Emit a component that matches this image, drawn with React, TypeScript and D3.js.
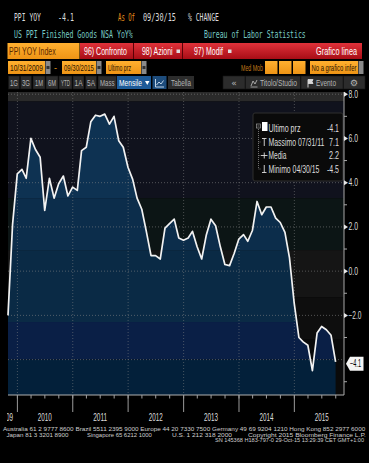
import React from "react";
import * as d3 from "d3";

// ---- data ----
const startYear = 2009;
const startMonth = 9; // October (0-based)
const values = [
  -2.0, 2.1, 4.4,
  4.6, 4.2, 6.0, 5.5, 5.15, 2.75, 4.2, 3.3, 3.95, 4.3, 3.4, 3.8,
  3.65, 5.45, 5.6, 6.75, 7.05, 7.0, 7.1, 6.65, 7.0, 5.9, 5.6, 4.7,
  4.15, 3.3, 2.8, 1.8, 0.7, 0.7, 0.55, 1.95, 2.15, 2.35, 1.5, 1.4,
  1.5, 1.8, 1.1, 0.55, 1.65, 2.35, 2.05, 1.1, 0.3, 0.25, 0.8, 1.45,
  1.65, 1.35, 1.85, 3.15, 2.55, 2.9, 2.9, 2.4, 2.2, 1.75, 0.6, -1.45,
  -3.0, -3.2, -3.35, -4.5, -2.8, -2.5, -2.65, -2.9, -4.1,
];
const yMajor = [8, 6, 4, 2, 0, -2];
const yMinor = [7, 5, 3, 1, -1, -3, -5];
const yGrid = [8, 6, 4, 2, 0, -2, -4];
const years = [2010, 2011, 2012, 2013, 2014, 2015];
const lastValue = -4.1;
const legendLabels = ["Ultimo prz", "Massimo 07/31/11", "Media", "Minimo 04/30/15"];
const legendValues = ["-4.1", "7.1", "2.2", "-4.5"];
const footer1 = "Australia 61 2 9777 8600 Brazil 5511 2395 9000 Europe 44 20 7330 7500 Germany 49 69 9204 1210 Hong Kong 852 2977 6000";
const footer2 = ["Japan 81 3 3201 8900", "Singapore 65 6212 1000", "U.S. 1 212 318 2000", "Copyright 2015 Bloomberg Finance L.P."];
const footer3 = "SN 145368 H183-797-0 29-Oct-15 13:29:39 CET  GMT+1:00";

const dates = values.map((_, i) => new Date(startYear, startMonth + i + 1, 0));
const data = values.map((v, i) => ({ date: dates[i], v }));

const MONO = "'DejaVu Sans Mono', 'Liberation Mono', monospace";
const NARROW = "'Liberation Sans', Arial, sans-serif";
const SYM = "'DejaVu Sans', sans-serif";

let ctx: CanvasRenderingContext2D | null = null;
function measure(txt: string, size: number, family: string) {
  if (typeof document === "undefined") return txt.length * size * 0.5;
  if (!ctx) ctx = document.createElement("canvas").getContext("2d");
  if (!ctx) return txt.length * size * 0.5;
  ctx.font = `${size}px ${family}`;
  return ctx.measureText(txt).width;
}

// text horizontally scaled to a target width (keeps the real glyph box compact)
const T = ({ x, y, children, len, size = 10, fill = "#dcdcdc", anchor = "start", family = NARROW }: any) => {
  const s = String(children);
  const sx = len ? len / Math.max(1, measure(s, size, family)) : 1;
  return (
    <text transform={`translate(${x},${y}) scale(${sx},1)`} x={0} y={0} fontSize={size} fill={fill}
      textAnchor={anchor} fontFamily={family}>{s}</text>
  );
};

export default function App() {
  const W = 369, H = 463;
  const L = 8, R = 344, TOP = 92, BOT = 395;
  const x = d3.scaleTime().domain([dates[0], dates[dates.length - 1]]).range([8, 335.6]);
  const y = d3.scaleLinear().domain([-5.6, 8.1]).range([BOT, TOP]);

  const area = d3.area<any>().x(d => x(d.date)).y0(BOT).y1(d => y(d.v))(data) || "";
  const line = d3.line<any>().x(d => x(d.date)).y(d => y(d.v))(data) || "";

  const bgBands = [
    { a: 8.1, b: 7.67, c: "#2a2a2a" },
    { a: 7.67, b: 3.3, c: "#10121d" },
    { a: 3.3, b: 0.95, c: "#0c1515" },
    { a: 0.95, b: -1.18, c: "#151515" },
    { a: -1.18, b: -3.1, c: "#0e0e0e" },
    { a: -3.1, b: -5.6, c: "#0a0a0a" },
  ];
  const fillBands = [
    { a: 8.1, b: 3.3, c: "#0e3252" },
    { a: 3.3, b: 0.95, c: "#0c2d4b" },
    { a: 0.95, b: -2.3, c: "#0a2a45" },
    { a: -2.3, b: -4.0, c: "#0a1f46" },
    { a: -4.0, b: -5.6, c: "#03203a" },
  ];

  const yearStarts = years.map(yr => new Date(yr, 0, 1));
  const quarters = d3.timeMonth.every(3)!.range(new Date(2010, 0, 1), new Date(2015, 9, 2));
  const yl = y(lastValue) + 2;

  const legRowY = [128, 142, 155.5, 169];

  return (
    <svg width={W} height={H} style={{ position: "absolute", left: 0, top: 0, background: "#000" }}>
      <defs>
        <clipPath id="areaClip"><path d={area} /></clipPath>
        <clipPath id="leftClip"><rect x={7} y={396} width={60} height={30} /></clipPath>
        <linearGradient id="redG" x1="0" y1="0" x2="0" y2="1">
          <stop offset="0" stopColor="#e0323a" />
          <stop offset="1" stopColor="#a80d16" />
        </linearGradient>
        <linearGradient id="orG" x1="0" y1="0" x2="0" y2="1">
          <stop offset="0" stopColor="#ffb030" />
          <stop offset="1" stopColor="#ee9415" />
        </linearGradient>
      </defs>
      <rect x={0} y={0} width={W} height={H} fill="#000" />

      {/* header */}
      <T x={14} y={20.5} len={27} family={MONO}>PPI YOY</T>
      <T x={58} y={20.5} len={16} family={MONO}>-4.1</T>
      <T x={118} y={20.5} len={17} family={MONO} fill="#e8901a">As Of</T>
      <T x={143} y={20.5} len={33} family={MONO}>09/30/15</T>
      <T x={188} y={20.5} len={31} family={MONO}>% CHANGE</T>
      <T x={14} y={37.5} len={119} family={MONO} fill="#78cbc4">US PPI Finished Goods NSA YoY%</T>
      <T x={204} y={37.5} len={102} family={MONO} fill="#78cbc4">Bureau of Labor Statistics</T>

      {/* red function bar */}
      <rect x={80} y={43} width={282} height={16} fill="url(#redG)" />
      <rect x={7.5} y={43} width={72} height={16} fill="url(#orG)" />
      <T x={9} y={55} len={47} size={10} fill="#5a2a00">PPI YOY Index</T>
      <line x1={133.5} y1={43} x2={133.5} y2={59} stroke="#5a0006" />
      <line x1={182.5} y1={43} x2={182.5} y2={59} stroke="#5a0006" />
      <T x={84} y={55} len={43} size={10} fill="#fff">96) Confronto</T>
      <T x={142} y={55} len={31} size={10} fill="#fff">98) Azioni</T>
      <rect x={176.5} y={49.5} width={3.5} height={3.5} fill="#ddd" />
      <T x={194} y={55} len={29} size={10} fill="#fff">97) Modif</T>
      <rect x={228} y={49.5} width={3.5} height={3.5} fill="#ddd" />
      <T x={357} y={55} len={41} size={10} fill="#fff" anchor="end">Grafico linea</T>

      {/* amber input row */}
      <rect x={8} y={61} width={37} height={13} fill="url(#orG)" />
      <T x={10} y={71} len={33} size={9} fill="#2a1200">10/31/2009</T>
      <rect x={45.5} y={61} width={5} height={13} fill="#8a8a8a" />
      <rect x={46.5} y={66} width={3} height={3} fill="#333" />
      <T x={54} y={71} size={9} fill="#f0a020">-</T>
      <rect x={62} y={61} width={34} height={13} fill="url(#orG)" />
      <T x={64} y={71} len={30} size={9} fill="#2a1200">09/30/2015</T>
      <rect x={96.5} y={61} width={5} height={13} fill="#8a8a8a" />
      <rect x={97.5} y={66} width={3} height={3} fill="#333" />
      <rect x={106} y={61} width={35} height={13} fill="url(#orG)" />
      <T x={108} y={71} len={23} size={9} fill="#2a1200">Ultimo prz</T>
      <rect x={141.5} y={61} width={5} height={13} fill="#8a8a8a" />
      <rect x={142.5} y={66} width={3} height={3} fill="#333" />
      <T x={241} y={71} len={22} size={9} fill="#c07818">Med Mob</T>
      <rect x={265} y={61} width={12.5} height={13} fill="url(#orG)" />
      <rect x={279} y={61} width={12.5} height={13} fill="url(#orG)" />
      <rect x={293} y={61} width={12.5} height={13} fill="url(#orG)" />
      <rect x={310} y={61} width={48} height={13} fill="url(#orG)" />
      <T x={311.5} y={71} len={45} size={9} fill="#2a1200">No a grafico infer</T>
      <rect x={358.5} y={61} width={5} height={13} fill="#8a8a8a" />

      {/* toolbar buttons */}
      {[
        [8.5, 11, "1G"], [20.5, 11, "3G"], [33, 12, "1M"], [46, 12, "6M"], [59, 13, "YTD"],
        [73, 11, "1A"], [85.5, 11, "5A"], [98, 18.5, "Mass"],
      ].map(([bx, bw, lab]: any) => (
        <g key={lab}>
          <rect x={bx} y={76} width={bw} height={13} fill="#2c2c2c" stroke="#151515" strokeWidth={0.6} />
          <T x={bx + bw / 2} y={85.5} size={8.5} fill="#b4b4b4" anchor="middle" len={lab.length > 2 ? bw - 4 : 8}>{lab}</T>
        </g>
      ))}
      <rect x={117} y={76} width={34} height={13} fill="#1d5a98" />
      <T x={119} y={85.5} size={8.5} fill="#fff" len={23}>Mensile</T>
      <path d="M145,81 L149.5,81 L147.25,85 Z" fill="#fff" />
      <rect x={152.5} y={76} width={14} height={13} fill="#1d4c7c" />
      <path d="M155.5,79 L155.5,87 L164,87 M156.5,85 L159,82 L161,84 L163.5,80.5" stroke="#cfe0f0" strokeWidth={0.9} fill="none" />
      <rect x={168} y={76} width={26} height={13} fill="#2c2c2c" />
      <T x={171} y={85.5} size={8.5} fill="#b4b4b4" len={20}>Tabella</T>
      <rect x={223} y={76} width={22} height={13} fill="#2c2c2c" stroke="#151515" strokeWidth={0.6} />
      <T x={234} y={85.5} size={9} fill="#b4b4b4" anchor="middle" family={SYM}>«</T>
      <rect x={245.5} y={76} width={55} height={13} fill="#2c2c2c" stroke="#151515" strokeWidth={0.6} />
      <path d="M251,86 L253,81 L255,84 L257,80" stroke="#b4b4b4" strokeWidth={0.9} fill="none" />
      <line x1={250.5} y1={87} x2={257.5} y2={87} stroke="#b4b4b4" strokeWidth={0.8} />
      <T x={260} y={85.5} size={8.5} fill="#b4b4b4" len={37}>Titolo/Studio</T>
      <rect x={301} y={76} width={42} height={13} fill="#2c2c2c" stroke="#151515" strokeWidth={0.6} />
      <path d="M308,79.5 L308,87.5 M308,79.5 L313,79.5 L312,81.5 L313,83.5 L308,83.5" stroke="#d8d8d8" strokeWidth={0.9} fill="#d8d8d8" />
      <T x={316} y={85.5} size={8.5} fill="#b4b4b4" len={20}>Evento</T>
      <rect x={343.5} y={76} width={21.5} height={13} fill="#2c2c2c" stroke="#151515" strokeWidth={0.6} />
      <T x={354} y={86} size={9} fill="#b4b4b4" anchor="middle" family={SYM}>⚙</T>

      {/* plot background bands */}
      {bgBands.map((b, i) => (
        <rect key={"bg" + i} x={L} y={y(b.a)} width={R - L} height={y(b.b) - y(b.a)} fill={b.c} />
      ))}
      {/* area fill with bands */}
      <g clipPath="url(#areaClip)">
        {fillBands.map((b, i) => (
          <rect key={"fb" + i} x={L} y={y(b.a)} width={R - L} height={y(b.b) - y(b.a)} fill={b.c} />
        ))}
      </g>

      {/* grid */}
      {yGrid.map(v => (
        <line key={"gy" + v} x1={L} x2={R} y1={y(v)} y2={y(v)} stroke="#8a8a8a" strokeOpacity={0.55} strokeDasharray="1 2" />
      ))}
      {yearStarts.map((d, i) => (
        <line key={"gx" + i} x1={x(d)} x2={x(d)} y1={TOP} y2={BOT} stroke="#8a8a8a" strokeOpacity={0.5} strokeDasharray="1 2" />
      ))}

      {/* line */}
      <path d={line} fill="none" stroke="#f2f2f2" strokeWidth={1.7} strokeLinejoin="round" />

      {/* legend */}
      <rect x={253} y={113} width={90} height={68} fill="#0a0a0a" stroke="#2e2e2e" rx={2} />
      <line x1={258.5} y1={129} x2={258.5} y2={169} stroke="#8a8a8a" strokeDasharray="1 1" strokeWidth={0.8} />
      {legRowY.slice(1).map((ry, i) => (
        <line key={"st" + i} x1={258.5} x2={261} y1={ry} y2={ry} stroke="#8a8a8a" strokeDasharray="1 1" strokeWidth={0.8} />
      ))}
      <rect x={256.5} y={124} width={4} height={4} fill="none" stroke="#9a9a9a" strokeWidth={0.7} />
      <line x1={257.5} x2={259.5} y1={126} y2={126} stroke="#9a9a9a" strokeWidth={0.7} />
      <rect x={262} y={122} width={5.5} height={9} fill="#fff" />
      <path d={`M262,${legRowY[1] - 3.5} L266.5,${legRowY[1] - 3.5} M264.25,${legRowY[1] - 3.5} L264.25,${legRowY[1] + 4}`} stroke="#ddd" strokeWidth={0.9} />
      <path d={`M261,${legRowY[2]} L267.5,${legRowY[2]} M264.25,${legRowY[2] - 3} L264.25,${legRowY[2] + 3}`} stroke="#ddd" strokeWidth={0.9} />
      <path d={`M264.25,${legRowY[3] - 4} L264.25,${legRowY[3] + 3.5} M262,${legRowY[3] + 3.5} L266.5,${legRowY[3] + 3.5}`} stroke="#ddd" strokeWidth={0.9} />
      {legendLabels.map((lab, i) => (
        <T key={"ll" + i} x={268.5} y={legRowY[i] + 3.5} size={10} fill="#dcdcdc" len={[32, 56, 18, 51][i]}>{lab}</T>
      ))}
      {legendValues.map((val, i) => (
        <T key={"lv" + i} x={339} y={legRowY[i] + 3.5} size={10} fill="#dcdcdc" anchor="end" len={val.length > 3 ? 12 : 10}>{val}</T>
      ))}

      {/* right axis */}
      <line x1={R} x2={R} y1={TOP} y2={BOT} stroke="#a8a8a8" />
      {yMajor.map(v => (
        <g key={"ym" + v}>
          <path d={`M${R},${y(v) - 2.5} L${R + 4},${y(v)} L${R},${y(v) + 2.5} Z`} fill="#e8e8e8" />
          <T x={R + 4.5} y={y(v) + 3.5} size={10} fill="#dcdcdc" len={v < 0 ? 13 : 9.5}>{d3.format(".1f")(v)}</T>
        </g>
      ))}
      {yMinor.map(v => (
        <line key={"yn" + v} x1={R} x2={R + 3} y1={y(v)} y2={y(v)} stroke="#a8a8a8" />
      ))}
      <path d={`M${R + 2},${yl} L${R + 6},${yl - 7} L363.5,${yl - 7} L363.5,${yl + 7} L${R + 6},${yl + 7} Z`} fill="#f4f4f4" />
      <T x={355.5} y={yl + 3.5} size={10} fill="#000" anchor="middle" len={11}>{d3.format(".1f")(lastValue)}</T>

      {/* bottom axis */}
      <line x1={L} x2={R} y1={BOT} y2={BOT} stroke="#b0b0b0" />
      {quarters.map((d, i) => (
        <line key={"q" + i} x1={x(d)} x2={x(d)} y1={BOT} y2={BOT + 3.5} stroke="#a0a0a0" />
      ))}
      {yearStarts.map((d, i) => (
        <line key={"yt" + i} x1={x(d)} x2={x(d)} y1={BOT} y2={BOT + 17} stroke="#9a9a9a" />
      ))}
      {years.map(yr => (
        <T key={"yl" + yr} x={x(new Date(yr, 6, 1))} y={421} size={11} fill="#dcdcdc" anchor="middle" len={14}>{String(yr)}</T>
      ))}
      <g clipPath="url(#leftClip)">
        <T x={13} y={421} size={11} fill="#dcdcdc" anchor="end" len={14}>2009</T>
      </g>

      {/* footer */}
      <T x={3} y={431} size={6} fill="#cfcfcf" len={363}>{footer1}</T>
      <T x={6.5} y={436.5} size={6} fill="#cfcfcf" len={62}>{footer2[0]}</T>
      <T x={87} y={436.5} size={6} fill="#cfcfcf" len={65}>{footer2[1]}</T>
      <T x={172} y={436.5} size={6} fill="#cfcfcf" len={60}>{footer2[2]}</T>
      <T x={248} y={436.5} size={6} fill="#cfcfcf" len={118}>{footer2[3]}</T>
      <T x={215} y={442} size={6} fill="#cfcfcf" len={151}>{footer3}</T>
    </svg>
  );
}
